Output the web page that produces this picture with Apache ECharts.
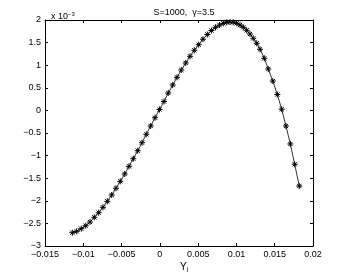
<!DOCTYPE html>
<html><head><meta charset="utf-8">
<script src="https://cdn.jsdelivr.net/npm/echarts@6/dist/echarts.min.js"></script>
<style>html,body{margin:0;padding:0;background:#fff}#c{width:346px;height:277px}</style>
</head><body><div id="c"></div>
<script>
// Data (x values: Y_i ; y values in units of 1e-3)
const xValues = [-0.01143,-0.01086,-0.01026,-0.00968,-0.00912,-0.00856,-0.00799,-0.00743,-0.00686,-0.00629,
-0.00573,-0.00517,-0.00459,-0.00403,-0.00347,-0.00289,-0.00233,-0.00177,-0.00120,-0.00063,
-0.00005,0.00054,0.00110,0.00168,0.00224,0.00280,0.00338,0.00394,0.00450,0.00507,
0.00563,0.00620,0.00674,0.00727,0.00779,0.00829,0.00873,0.00916,0.00959,0.01004,
0.01047,0.01090,0.01134,0.01177,0.01220,0.01265,0.01308,0.01364,0.01416,0.01475,
0.01534,0.01591,0.01647,0.01704,0.01761,0.01821];
const yValues = [-2.706,-2.675,-2.617,-2.551,-2.469,-2.365,-2.263,-2.144,-2.011,-1.872,
-1.723,-1.569,-1.407,-1.237,-1.069,-0.892,-0.715,-0.529,-0.345,-0.162,
0.020,0.197,0.385,0.562,0.732,0.894,1.049,1.197,1.330,1.454,
1.575,1.679,1.768,1.838,1.889,1.927,1.949,1.956,1.949,1.927,
1.889,1.838,1.772,1.690,1.595,1.485,1.352,1.153,0.916,0.650,
0.352,0.027,-0.345,-0.743,-1.192,-1.673];
const titleText = 'S=1000,  \u03b3=3.5';
const xTicks = {min:-0.015, max:0.02, step:0.005};
const yTicks = {min:-3, max:2, step:0.5};

const FONT = 'Liberation Sans, Arial, Helvetica, sans-serif';
const fmtNum = v => {
  let r = Math.round(v*100000)/100000;
  let s = String(r);
  return s.replace('-', '\u2212');
};
const chart = echarts.init(document.getElementById('c'), null, {renderer:'canvas'});
const axisCommon = () => ({
  axisLine:{show:true, onZero:false, lineStyle:{color:'#000', width:1}},
  axisTick:{show:true, inside:true, length:3, lineStyle:{color:'#000', width:1}},
  splitLine:{show:false},
});
const data = xValues.map((x,i)=>[x, yValues[i]]);
chart.setOption({
  animation:false,
  backgroundColor:'#fff',
  grid:{left:45, right:33, top:20, bottom:31, containLabel:false},
  title:[
    {text:titleText, left:179, top:3, textAlign:'center',
     textStyle:{fontFamily:FONT, fontSize:9, fontWeight:'normal', color:'#000'}},
    {text:'{a|x 10}{b|\u22123}', left:46, top:6,
     textStyle:{fontWeight:'normal', rich:{a:{fontFamily:FONT, fontSize:9, fontWeight:'normal', color:'#000'},
                      b:{fontFamily:FONT, fontSize:6, fontWeight:'normal', color:'#000', verticalAlign:'top', padding:[0,0,6,0]}}}},
    {text:'{a|Y}{b|i}', left:179, top:256, textAlign:'center',
     textStyle:{fontWeight:'normal', rich:{a:{fontFamily:FONT, fontSize:10, fontWeight:'normal', color:'#000'},
                      b:{fontFamily:FONT, fontSize:7, fontWeight:'normal', color:'#000', verticalAlign:'bottom', padding:[6,0,0,0]}}}}
  ],
  xAxis:[
    Object.assign({type:'value', position:'bottom', min:xTicks.min, max:xTicks.max, interval:xTicks.step,
      axisLabel:{fontFamily:FONT, fontSize:9, color:'#000', margin:4, formatter:fmtNum, showMinLabel:true, showMaxLabel:true}}, axisCommon()),
    Object.assign({type:'value', position:'top', min:xTicks.min, max:xTicks.max, interval:xTicks.step,
      axisLabel:{show:false}}, axisCommon())
  ],
  yAxis:[
    Object.assign({type:'value', position:'left', min:yTicks.min, max:yTicks.max, interval:yTicks.step,
      axisLabel:{fontFamily:FONT, fontSize:9, color:'#000', margin:4, formatter:fmtNum}}, axisCommon()),
    Object.assign({type:'value', position:'right', min:yTicks.min, max:yTicks.max, interval:yTicks.step,
      axisLabel:{show:false}}, axisCommon())
  ],
  series:[{
    type:'line', data:data, xAxisIndex:0, yAxisIndex:0,
    lineStyle:{color:'#000', width:0.8},
    symbol:'path://M0,5L10,5M5,0L5,10M1.5,1.5L8.5,8.5M1.5,8.5L8.5,1.5',
    symbolSize:6, showAllSymbol:true,
    itemStyle:{color:'#000', borderColor:'#000', borderWidth:1},
    emphasis:{disabled:true}
  }]
});
</script></body></html>
